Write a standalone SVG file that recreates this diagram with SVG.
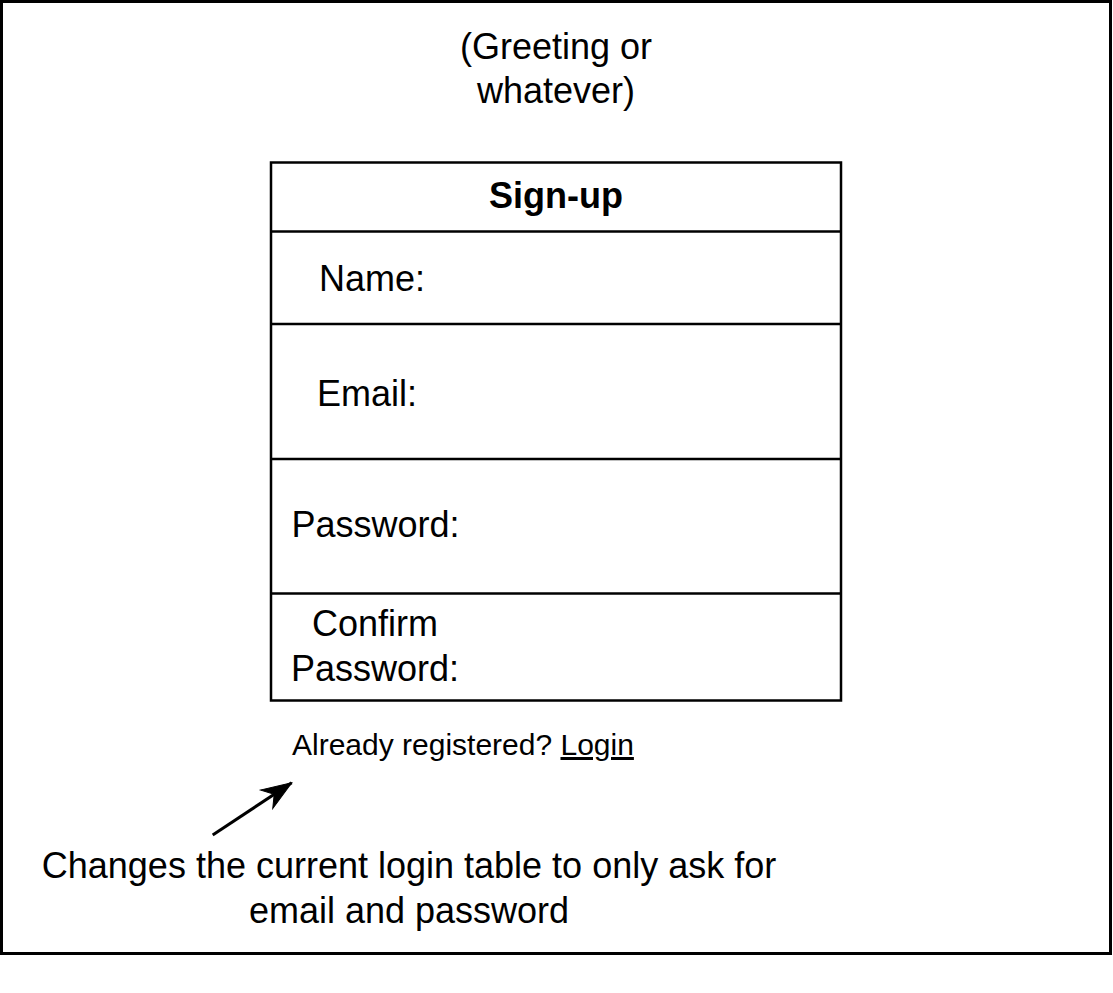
<svg xmlns="http://www.w3.org/2000/svg" width="1113" height="993" viewBox="0 0 1113 993">
<style>
  text { font-family: "Liberation Sans", Arial, sans-serif; fill: #000; }
  .big { font-size: 36px; }
  .mid { font-size: 30px; }
  .bold { font-weight: bold; }
  .box { fill: #fff; stroke: #000; stroke-width: 2.5; }
  .line { stroke: #000; stroke-width: 2.5; fill: none; }
</style>
<defs>
  <marker id="arrow" viewBox="0 0 10 10" refX="9" refY="5" markerWidth="10" markerHeight="10" markerUnits="userSpaceOnUse" orient="auto" overflow="visible">
    <path d="M 9 5 L -21 -6 L -12 5 L -21 16 Z" fill="#000" stroke="#000" stroke-width="1"/>
  </marker>
</defs>
<rect x="0" y="0" width="1113" height="993" fill="#fff"/>
<g id="page">
  <rect x="1.5" y="1.5" width="1109" height="952" fill="#fff" stroke="#000" stroke-width="3"/>
</g>
<g id="greeting">
  <text class="big" x="556" y="59" text-anchor="middle">(Greeting or</text>
  <text class="big" x="556" y="103" text-anchor="middle">whatever)</text>
</g>
<g id="signup-table">
  <rect class="box" x="271" y="162.5" width="570" height="538"/>
  <line class="line" x1="271" y1="231.5" x2="841" y2="231.5"/>
  <line class="line" x1="271" y1="324" x2="841" y2="324"/>
  <line class="line" x1="271" y1="459" x2="841" y2="459"/>
  <line class="line" x1="271" y1="593.5" x2="841" y2="593.5"/>
  <text class="big bold" x="556" y="208" text-anchor="middle">Sign-up</text>
  <text class="big" x="372" y="291" text-anchor="middle">Name:</text>
  <text class="big" x="367" y="406" text-anchor="middle">Email:</text>
  <text class="big" x="375.5" y="537" text-anchor="middle">Password:</text>
  <text class="big" x="375" y="636" text-anchor="middle">Confirm</text>
  <text class="big" x="375" y="681" text-anchor="middle">Password:</text>
</g>
<g id="login-link">
  <text class="mid" x="292" y="755">Already registered? <tspan text-decoration="underline">Login</tspan></text>
</g>
<g id="connectors">
  <line x1="212.7" y1="835" x2="291.7" y2="782.7" stroke="#000" stroke-width="3" marker-end="url(#arrow)"/>
</g>
<g id="note">
  <text class="big" x="409" y="878" text-anchor="middle">Changes the current login table to only ask for</text>
  <text class="big" x="409" y="923" text-anchor="middle">email and password</text>
</g>
</svg>
